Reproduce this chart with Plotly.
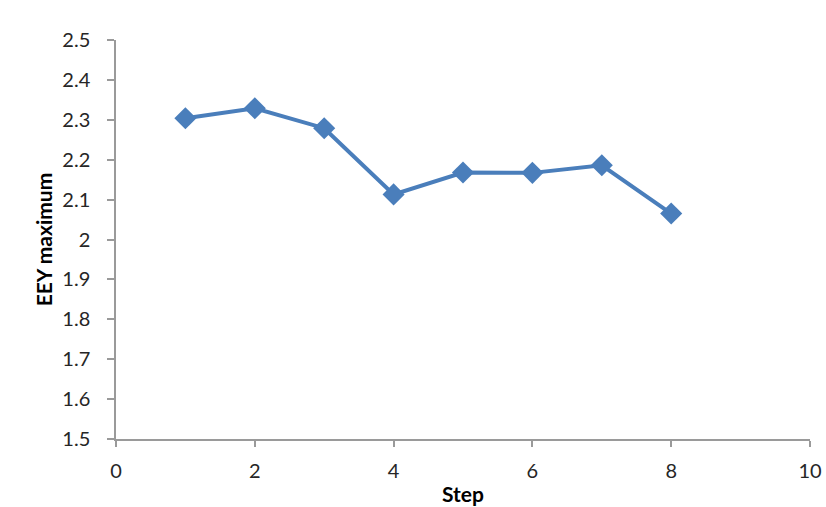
import plotly.graph_objects as go

steps = [1, 2, 3, 4, 5, 6, 7, 8]
eey_max = [2.304, 2.329, 2.279, 2.113, 2.168, 2.167, 2.186, 2.065]

x_ticks = [0, 2, 4, 6, 8, 10]
y_ticks = [1.5, 1.6, 1.7, 1.8, 1.9, 2.0, 2.1, 2.2, 2.3, 2.4, 2.5]
y_labels = ["1.5", "1.6", "1.7", "1.8", "1.9", "2", "2.1", "2.2", "2.3", "2.4", "2.5"]

color = "#4A7EBB"
font_family = "Lato, Carlito, 'Liberation Sans', sans-serif"

fig = go.Figure(go.Scatter(
    x=steps, y=eey_max, mode="lines+markers",
    line=dict(color=color, width=4),
    marker=dict(symbol="diamond", size=17, color=color),
    showlegend=False,
))

fig.update_layout(
    width=826, height=507,
    margin=dict(l=116, r=16, t=40, b=68),
    paper_bgcolor="white", plot_bgcolor="white",
    font=dict(family=font_family, size=20, color="#262626"),
)
fig.update_xaxes(
    range=[0, 10], tickvals=x_ticks, ticktext=[str(v) for v in x_ticks],
    showgrid=False, zeroline=False, showline=True, linecolor="#9a9a9a", linewidth=1.5,
    ticks="outside", ticklen=6, tickcolor="#9a9a9a", tickwidth=1.5,
    ticklabelstandoff=7, automargin=False, ticklabeloverflow="allow",
    title=dict(text="<b>Step</b>", font=dict(size=21, color="#000000"), standoff=7),
)
fig.update_yaxes(
    range=[1.5, 2.5], tickvals=y_ticks, ticktext=y_labels,
    showgrid=False, zeroline=False, showline=True, linecolor="#9a9a9a", linewidth=1.5,
    ticks="outside", ticklen=7, tickcolor="#9a9a9a", tickwidth=1.5,
    ticklabelstandoff=13, automargin=False, ticklabeloverflow="allow",
    title=dict(text="<b>EEY maximum</b>", font=dict(size=21, color="#000000"), standoff=4),
)

fig.write_html("out.html", config={"displayModeBar": False})

with open("out.html", "r", encoding="utf-8") as f:
    html = f.read()
html = html.replace("<body>", '<body style="margin:0;padding:0;">', 1)
with open("out.html", "w", encoding="utf-8") as f:
    f.write(html)
